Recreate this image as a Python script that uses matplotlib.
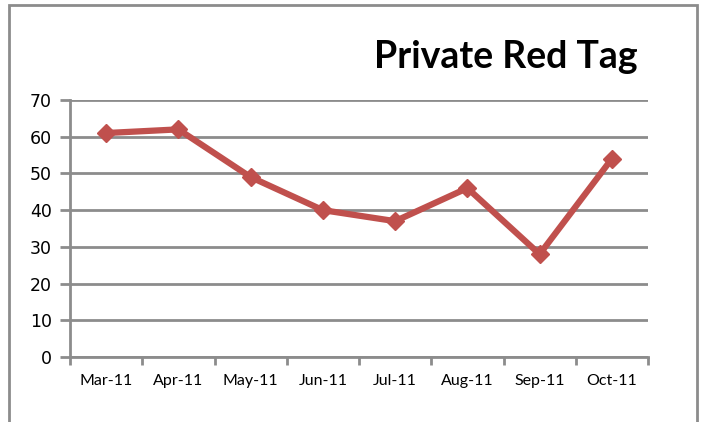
import matplotlib
matplotlib.use("Agg")
import matplotlib.pyplot as plt
from matplotlib.patches import Rectangle

months = ["Mar-11", "Apr-11", "May-11", "Jun-11", "Jul-11", "Aug-11", "Sep-11", "Oct-11"]
values = [61, 62, 49, 40, 37, 46, 28, 54]
y_ticks = [0, 10, 20, 30, 40, 50, 60, 70]

W, H = 702, 422
fig = plt.figure(figsize=(W / 100, H / 100), dpi=100)
fig.patch.set_facecolor("white")

# outer frame
fig.add_artist(Rectangle((9 / W, -0.05), (697 - 9) / W, 1.05 - 5 / H,
                         transform=fig.transFigure, fill=False,
                         edgecolor="#8c8c8c", linewidth=2))

ax = fig.add_axes([70 / W, (H - 357) / H, (648 - 70) / W, (357 - 100) / H])
x = list(range(len(months)))
ax.plot(x, values, color="#C0504D", linewidth=4.5, marker="D", markersize=9,
        markerfacecolor="#C0504D", markeredgecolor="#C0504D", zorder=3)

ax.set_xlim(-0.5, len(months) - 0.5)
ax.set_ylim(0, 70)
ax.set_yticks(y_ticks)
ax.set_xticks(x)
ax.set_xticklabels(months, fontsize=11.5, family=["Lato", "DejaVu Sans"])
ax.set_xticks([i - 0.5 for i in range(len(months) + 1)], minor=True)
ax.tick_params(axis="x", which="major", length=0, pad=12)
ax.tick_params(axis="x", which="minor", length=6, width=2, color="#8c8c8c", direction="out")
ax.tick_params(axis="y", length=7, width=2, color="#8c8c8c", labelsize=12.5, pad=6)

ax.yaxis.grid(True, color="#8c8c8c", linewidth=2)
ax.set_axisbelow(True)
for s in ["top", "right"]:
    ax.spines[s].set_visible(False)
for s in ["left", "bottom"]:
    ax.spines[s].set_color("#8c8c8c")
    ax.spines[s].set_linewidth(2)

fig.text(638 / W, (H - 68) / H, "Private Red Tag", ha="right", va="baseline",
         fontsize=27, fontweight="bold", family=["Lato", "DejaVu Sans"])

fig.savefig("out.png", dpi=100)
